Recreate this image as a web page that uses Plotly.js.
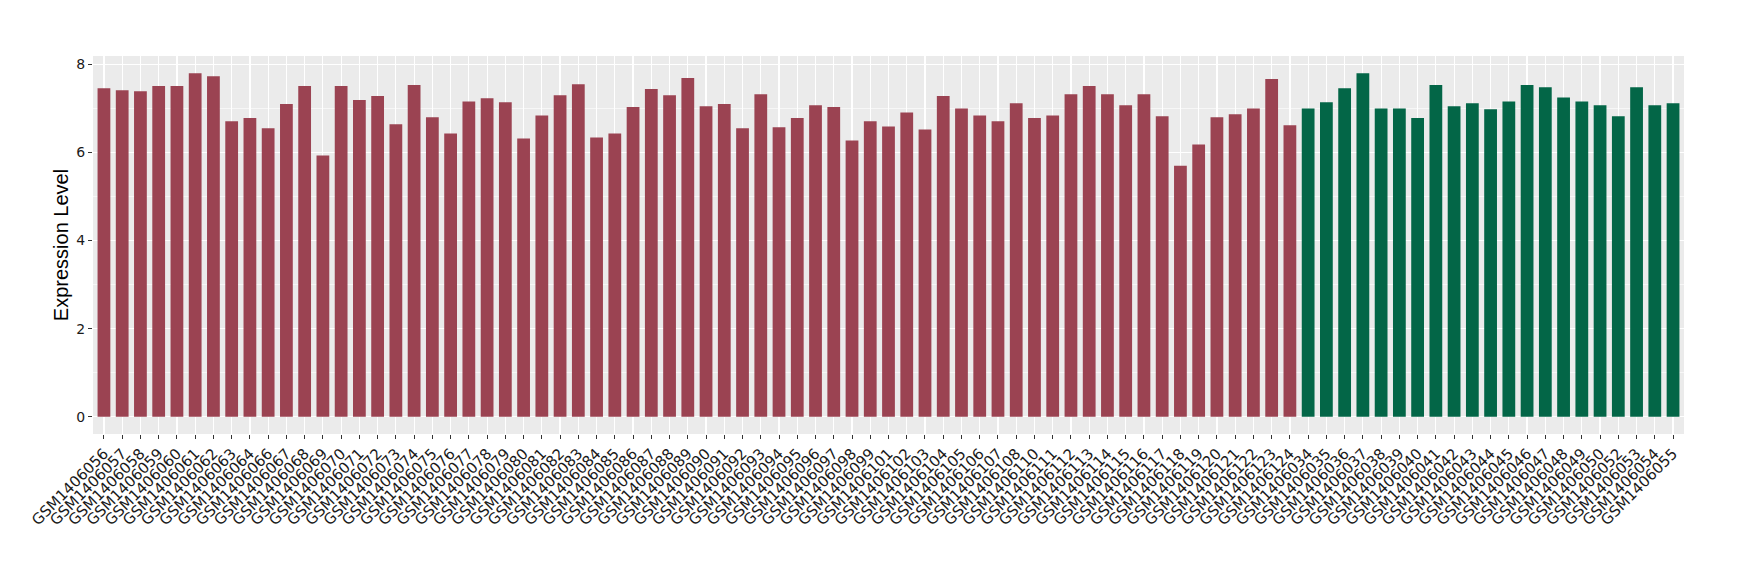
<!DOCTYPE html>
<html>
<head>
<meta charset="utf-8">
<script src="https://cdn.plot.ly/plotly-3.0.1.min.js"></script>
<style>html,body{margin:0;padding:0;background:#fff;}#chart{width:1740px;height:580px;}</style>
</head>
<body>
<div id="chart"></div>
<script>
// Group 1 (red) samples
const groupASamples = ["GSM1406056","GSM1406057","GSM1406058","GSM1406059","GSM1406060","GSM1406061","GSM1406062","GSM1406063","GSM1406064","GSM1406066","GSM1406067","GSM1406068","GSM1406069","GSM1406070","GSM1406071","GSM1406072","GSM1406073","GSM1406074","GSM1406075","GSM1406076","GSM1406077","GSM1406078","GSM1406079","GSM1406080","GSM1406081","GSM1406082","GSM1406083","GSM1406084","GSM1406085","GSM1406086","GSM1406087","GSM1406088","GSM1406089","GSM1406090","GSM1406091","GSM1406092","GSM1406093","GSM1406094","GSM1406095","GSM1406096","GSM1406097","GSM1406098","GSM1406099","GSM1406101","GSM1406102","GSM1406103","GSM1406104","GSM1406105","GSM1406106","GSM1406107","GSM1406108","GSM1406110","GSM1406111","GSM1406112","GSM1406113","GSM1406114","GSM1406115","GSM1406116","GSM1406117","GSM1406118","GSM1406119","GSM1406120","GSM1406121","GSM1406122","GSM1406123","GSM1406124"];
const groupAValues = [7.46,7.41,7.39,7.51,7.51,7.80,7.73,6.71,6.78,6.55,7.10,7.51,5.93,7.51,7.19,7.28,6.64,7.53,6.80,6.43,7.16,7.23,7.14,6.32,6.84,7.30,7.55,6.34,6.43,7.03,7.44,7.30,7.69,7.05,7.10,6.55,7.32,6.57,6.78,7.07,7.03,6.27,6.71,6.59,6.91,6.52,7.28,7.00,6.84,6.71,7.12,6.78,6.84,7.32,7.51,7.32,7.07,7.32,6.82,5.70,6.18,6.80,6.87,7.00,7.67,6.62];

// Group 2 (green) samples
const groupBSamples = ["GSM1406034","GSM1406035","GSM1406036","GSM1406037","GSM1406038","GSM1406039","GSM1406040","GSM1406041","GSM1406042","GSM1406043","GSM1406044","GSM1406045","GSM1406046","GSM1406047","GSM1406048","GSM1406049","GSM1406050","GSM1406052","GSM1406053","GSM1406054","GSM1406055"];
const groupBValues = [7.00,7.14,7.46,7.80,7.00,7.00,6.78,7.53,7.05,7.12,6.98,7.16,7.53,7.48,7.25,7.16,7.07,6.82,7.48,7.07,7.12];

const yTickVals = [0,2,4,6,8];
const yTitle = "Expression Level";

const allSamples = groupASamples.concat(groupBSamples);
const nCat = allSamples.length;

const traces = [
  {type:'bar', x:groupASamples, y:groupAValues, width:0.7, marker:{color:'#9B4352', line:{width:0}}, hoverinfo:'x+y', showlegend:false},
  {type:'bar', x:groupBSamples, y:groupBValues, width:0.7, marker:{color:'#036647', line:{width:0}}, hoverinfo:'x+y', showlegend:false}
];

const layout = {
  width:1740, height:580,
  margin:{l:93, r:56, t:56, b:146},
  paper_bgcolor:'#ffffff',
  plot_bgcolor:'#EBEBEB',
  barmode:'overlay',
  font:{family:'"DejaVu Sans", sans-serif', color:'#1a1a1a'},
  xaxis:{
    type:'category',
    categoryorder:'array', categoryarray:allSamples,
    range:[-0.6, nCat-0.4],
    tickangle:-45,
    tickfont:{family:'"DejaVu Sans", sans-serif', size:15, color:'#1a1a1a'},
    ticks:'outside', ticklen:4, tickwidth:1, tickcolor:'#333333',
    showgrid:true, gridcolor:'#ffffff', gridwidth:1.2,
    showline:false, zeroline:false, automargin:false,
    fixedrange:true
  },
  yaxis:{
    range:[-0.39, 8.19],
    tickvals:yTickVals, ticktext:yTickVals.map(String),
    tickfont:{family:'"DejaVu Sans", sans-serif', size:14, color:'#1a1a1a'},
    ticks:'outside', ticklen:4, tickwidth:1, tickcolor:'#333333',
    showgrid:true, gridcolor:'#ffffff', gridwidth:1.2,
    minor:{dtick:1, tick0:0, showgrid:true, gridcolor:'#ffffff', gridwidth:0.6, ticks:''},
    showline:false, zeroline:false, automargin:false,
    title:{text:yTitle, font:{family:'"Liberation Sans", Arial, sans-serif', size:20, color:'#000000'}, standoff:2},
    fixedrange:true
  }
};

Plotly.newPlot('chart', traces, layout, {displayModeBar:false, staticPlot:true});
</script>
</body>
</html>
